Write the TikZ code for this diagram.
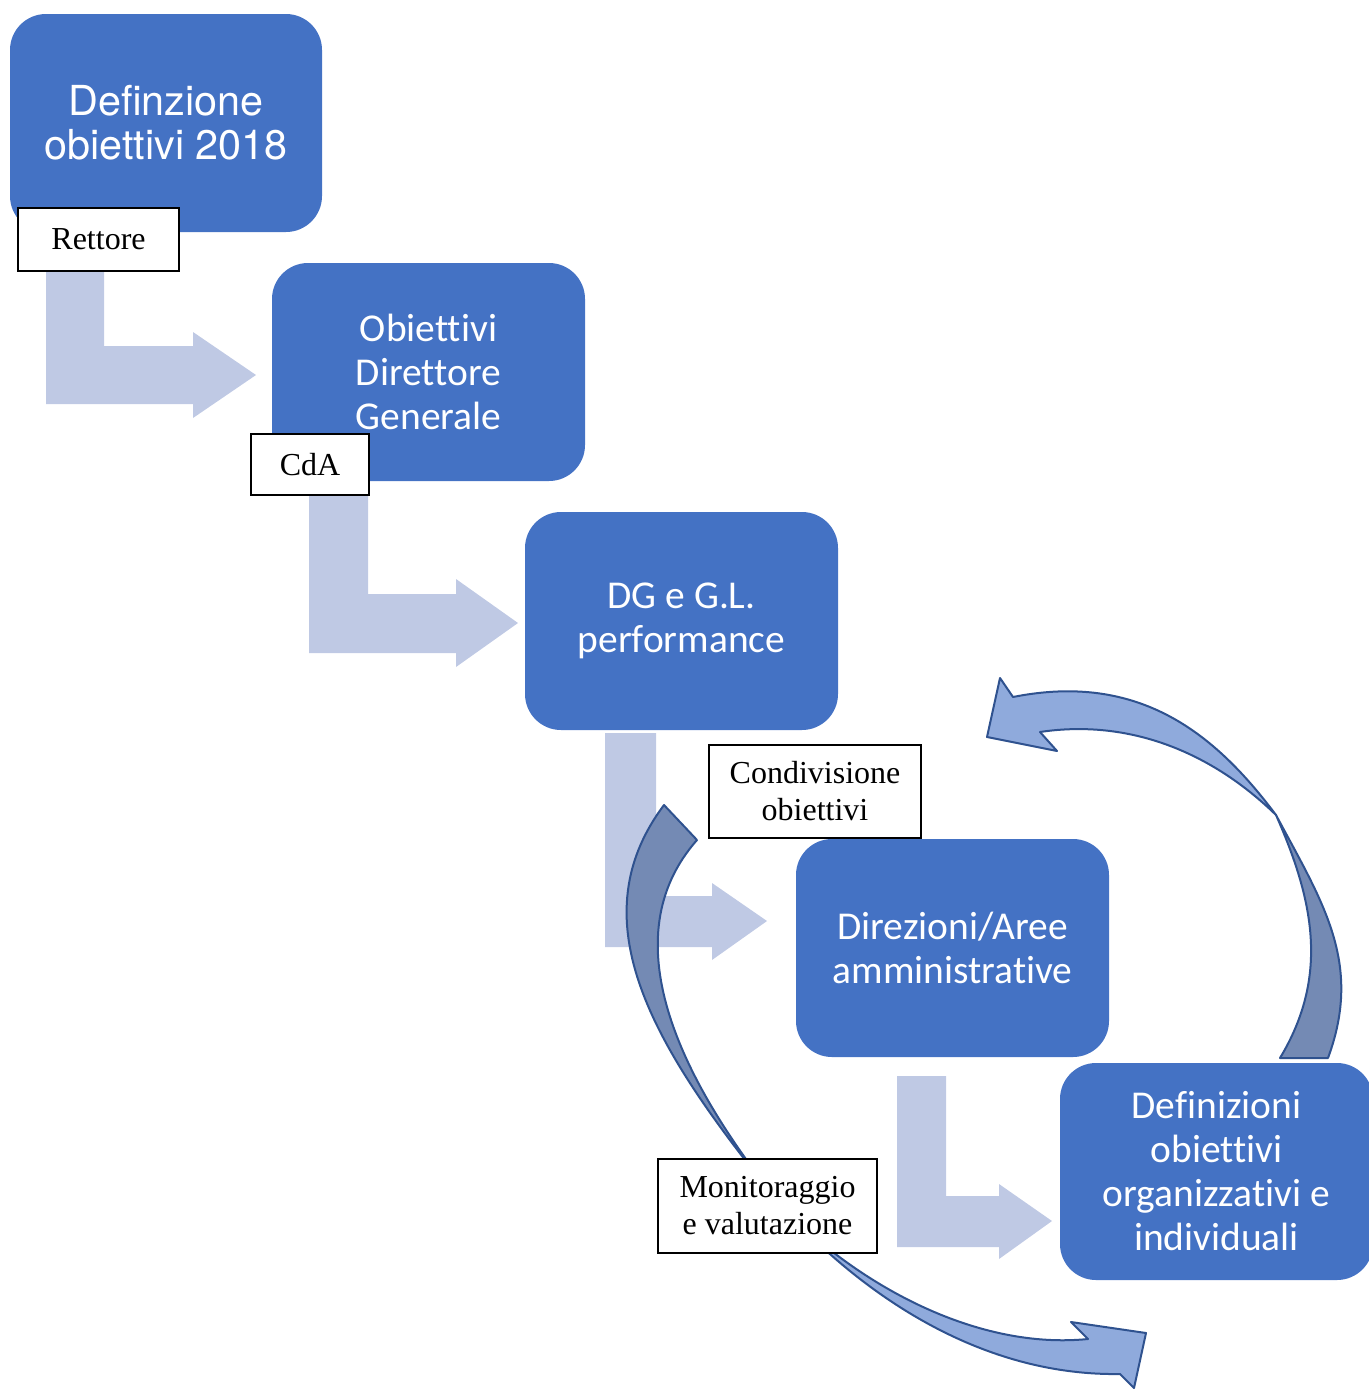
\documentclass[tikz,border=0pt]{standalone}
\usepackage{fontspec}
\usepackage{tikz}
\newfontfamily\boxfont[Ligatures=NoCommon]{Carlito}
\newfontfamily\headfont{TeX Gyre Heros}
\newfontfamily\tagfont{Liberation Serif}
\definecolor{boxblue}{RGB}{68,114,196}
\definecolor{bentfill}{RGB}{191,201,228}
\definecolor{curvelight}{RGB}{143,170,220}
\definecolor{curvedark}{RGB}{116,138,180}
\definecolor{curveline}{RGB}{47,82,143}
\tikzset{every picture/.style={line width=0.75pt},
  stepbox/.style={fill=boxblue, rounded corners=27pt, minimum width=234.75pt, minimum height=163.5pt, inner sep=0pt, text=white, align=center, font=\boxfont\fontsize{29.6}{33}\selectfont},
  tagbox/.style={draw=black, fill=white, line width=1.5pt, inner sep=0pt, align=center, font=\tagfont\fontsize{24}{27.75}\selectfont},
  bentarrow/.style={fill=bentfill, draw=none},
  curvefront/.style={fill=curvelight, draw=curveline, line width=1.5pt, line join=round},
  curveback/.style={fill=curvedark, draw=curveline, line width=1.5pt, line join=round}}

\begin{document}
\begin{tikzpicture}[x=0.75pt,y=0.75pt,yscale=-1]
\useasboundingbox (0,0) rectangle (1368,1389);

%Bent Arrows
\fill[bentarrow] (46,260) -- (104,260) -- (104,346) -- (193,346) -- (193,332) -- (256,375) -- (193,418) -- (193,404) -- (46,404) -- cycle ;
\fill[bentarrow] (309,485) -- (368,485) -- (368,594) -- (456,594) -- (456,579) -- (518,623) -- (456,667) -- (456,653) -- (309,653) -- cycle ;
\fill[bentarrow] (605,733) -- (656,733) -- (656,896) -- (712,896) -- (712,883) -- (767,921) -- (712,960) -- (712,947) -- (605,947) -- cycle ;
\fill[bentarrow] (897,1076) -- (946,1076) -- (946,1196) -- (999,1196) -- (999,1184) -- (1052,1221) -- (999,1259) -- (999,1247) -- (897,1247) -- cycle ;

%Rounded Boxes
\node[stepbox, minimum width=234pt, font=\headfont\fontsize{31}{33}\selectfont] (defin) at (166,123) {Definzione\\obiettivi 2018};
\node[stepbox] (obdg) at (428.5,372) {Obiettivi\\Direttore\\Generale};
\node[stepbox] (dggl) at (681.5,621) {DG e G.L.\\performance};
\node[stepbox] (direz) at (952.5,948) {Direzioni/Aree\\amministrative};
\node[stepbox, minimum height=162.75pt] (defind) at (1216.5,1171.5) {Definizioni\\obiettivi\\organizzativi e\\individuali};

%Curved Arrow (right)
\draw[curvefront] (1013,697) .. controls (1140.5,671.5) and (1216,735) .. (1276,815) .. controls (1211.5,752) and (1129,718.6) .. (1040,732) -- (1057,751) -- (987,737) -- (1000,678) -- cycle ;
\draw[curveback] (1276,815) .. controls (1323,903) and (1363,963) .. (1328,1058) -- (1280,1058) .. controls (1330,975) and (1313,899) .. (1276,815) -- cycle ;

%Curved Arrow (left)
\draw[curveback] (664,805) .. controls (574,925) and (659,1056) .. (785,1210) .. controls (678,1079) and (611,937.5) .. (697,840) -- cycle ;
\draw[curvefront] (785,1210) .. controls (873,1305) and (990,1376) .. (1120,1374) -- (1134,1388) -- (1146,1333) -- (1071,1322) -- (1088,1339) .. controls (978,1350) and (862,1287) .. (785,1210) -- cycle ;

% Text Node
\node[tagbox, minimum width=120.75pt, minimum height=47.25pt] (rett) at (98.5,239.5) {Rettore};
% Text Node
\node[tagbox, minimum width=88.5pt, minimum height=45.75pt] (cda) at (310,464.5) {CdA};
% Text Node
\node[tagbox, minimum width=159pt, minimum height=69.75pt] (condiv) at (815,791.5) {Condivisione\\obiettivi};
% Text Node
\node[tagbox, minimum width=164.25pt, minimum height=70.5pt] (monit) at (767.5,1206) {Monitoraggio\\e valutazione};

\end{tikzpicture}
\end{document}
